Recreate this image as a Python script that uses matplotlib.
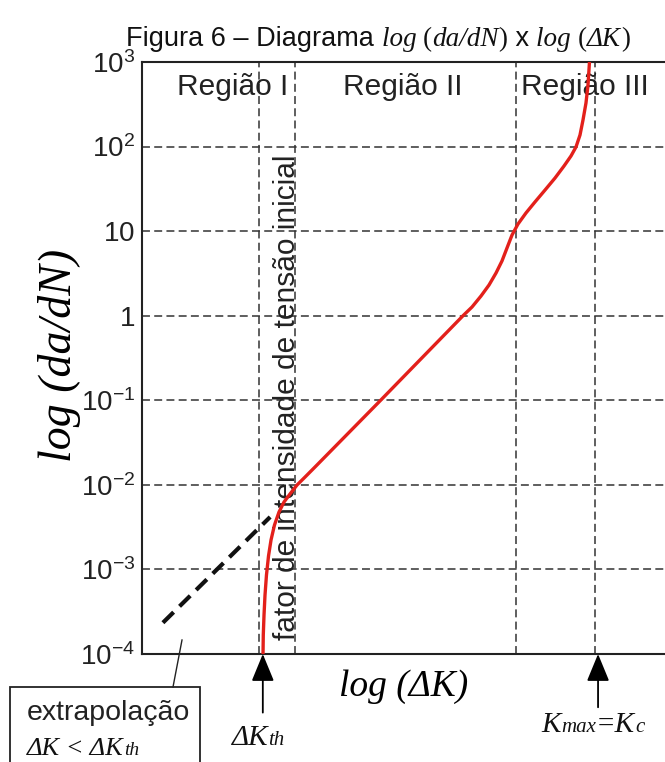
import numpy as np
import matplotlib
matplotlib.use("Agg")
import matplotlib.pyplot as plt
from matplotlib.patches import Rectangle

plt.rcParams['font.family'] = ['Liberation Sans', 'DejaVu Sans']
plt.rcParams['mathtext.fontset'] = 'custom'
plt.rcParams['mathtext.rm'] = 'Liberation Sans'
plt.rcParams['mathtext.it'] = 'Liberation Sans:italic'

# curva da/dN x dK (x = log dK em unidades arbitrarias, y = expoente de da/dN)
curve_x = [2.314, 2.319, 2.333, 2.352, 2.380, 2.419, 2.467, 2.533, 2.620,
           2.715, 2.830, 2.964, 3.117, 3.308, 4.512,
           6.138, 6.310, 6.482, 6.635, 6.769, 6.883, 6.979, 7.075, 7.189,
           7.342, 7.514, 7.706, 7.897, 8.069, 8.203, 8.298, 8.375, 8.432,
           8.489, 8.528, 8.556]
curve_logy = [-4.000, -3.775, -3.539, -3.303, -3.066, -2.841, -2.652, -2.475,
              -2.321, -2.203, -2.108, -2.002, -1.908, -1.789, -1.032,
              0.000, 0.103, 0.233, 0.363, 0.505, 0.647, 0.801, 0.954, 1.084,
              1.215, 1.345, 1.486, 1.628, 1.770, 1.889, 1.995, 2.137, 2.314,
              2.515, 2.728, 3.000]

# extrapolacao dK < dKth
extrap_x = [0.40, 2.45]
extrap_logy = [-3.63, -2.38]

# limites das regioes
region_lines = [2.24, 2.93, 7.15, 8.66]
region_names = ['Região I', 'Região II', 'Região III']
region_pos = [1.74, 4.99, 8.47]

ytick_vals = [1e-4, 1e-3, 1e-2, 1e-1, 1, 10, 1e2, 1e3]
ytick_labels = [r'$10^{-4}$', r'$10^{-3}$', r'$10^{-2}$', r'$10^{-1}$',
                r'$1$', r'$10$', r'$10^{2}$', r'$10^{3}$']

dk_th = 2.31
k_max = 8.72

serif_it = dict(family='Liberation Serif', style='italic')
serif_up = dict(family='Liberation Serif')
sans = dict(family='Liberation Sans')

fig = plt.figure(figsize=(6.65, 7.62), dpi=100)
ax = fig.add_axes([142 / 665, 108 / 762, 1 - 142 / 665, 592 / 762])

ax.set_yscale('log')
ax.set_xlim(0, 10)
ax.set_ylim(1e-4, 1e3)

# grade tracejada
grid_style = dict(color='#333333', lw=1.1, linestyle=(0, (5.2, 2.8)), zorder=1)
for v in ytick_vals[1:-1]:
    ax.axhline(v, **grid_style)
for v in region_lines:
    ax.axvline(v, **grid_style)

ax.plot(curve_x, 10 ** np.array(curve_logy), color='#e3201b', lw=2.4,
        solid_capstyle='butt', solid_joinstyle='round', zorder=3)
ax.plot(extrap_x, 10 ** np.array(extrap_logy), color='#111111', lw=3.0,
        linestyle=(0, (3.6, 2.0)), zorder=3)

for name, xp in zip(region_names, region_pos):
    ax.text(xp, 0.958, name, transform=ax.get_xaxis_transform(), ha='center',
            va='center', fontsize=21.5, color='#222222', zorder=2)

ax.text(2.78, 0.434, 'fator de intensidade de tensão inicial', rotation=90,
        transform=ax.get_xaxis_transform(), ha='center', va='center',
        fontsize=21.5, color='#222222', zorder=2)

ax.set_xticks([])
ax.set_yticks(ytick_vals)
ax.set_yticklabels(ytick_labels)
ax.yaxis.set_minor_locator(matplotlib.ticker.NullLocator())
ax.tick_params(axis='y', length=0, pad=5, labelsize=20, labelcolor='#222222')

for s in ['left', 'bottom', 'top']:
    ax.spines[s].set_linewidth(1.5)
    ax.spines[s].set_color('#222222')
ax.spines['right'].set_visible(False)

ax.set_ylabel('log (da/dN)', fontsize=33, **serif_it)
ax.yaxis.set_label_coords(-0.117, 0.505)

# eixo x
ax.text(0.5, -0.055, 'log (ΔK)', transform=ax.transAxes, ha='center',
        va='center', fontsize=27, **serif_it)

# setas dKth e Kmax
arrow = dict(arrowstyle='-|>,head_length=0.85,head_width=0.35', lw=1.3,
             color='black', shrinkA=0, shrinkB=0, mutation_scale=20)
ax.annotate('', xy=(dk_th, 0), xycoords=('data', 'axes fraction'),
            xytext=(dk_th, -0.099), textcoords=('data', 'axes fraction'),
            arrowprops=arrow)
ax.annotate('', xy=(k_max, 0), xycoords=('data', 'axes fraction'),
            xytext=(k_max, -0.09), textcoords=('data', 'axes fraction'),
            arrowprops=arrow)


def draw_chain(pieces, x0, y0, ha='left'):
    # escreve pedacos de texto em sequencia na mesma linha de base
    fig.canvas.draw()
    renderer = fig.canvas.get_renderer()
    texts = []
    for txt, size, style in pieces:
        t = fig.text(0, y0, txt, fontsize=size, va='baseline', ha='left',
                     color='#111111', **style)
        texts.append(t)
    widths = [t.get_window_extent(renderer).width for t in texts]
    total = sum(widths)
    fw = fig.bbox.width
    if ha == 'center':
        x = x0 * fw - total / 2
    else:
        x = x0 * fw
    for t, w in zip(texts, widths):
        t.set_x(x / fw)
        x += w


draw_chain([('Figura 6 – Diagrama ', 19.5, sans), ('log ', 19.5, serif_it),
            ('(', 19.5, serif_up), ('da/dN', 19.5, serif_it),
            (')', 19.5, serif_up), (' x ', 19.5, sans), ('log ', 19.5, serif_it),
            ('(', 19.5, serif_up), ('ΔK', 19.5, serif_it), (')', 19.5, serif_up)],
           378 / 665, 1 - 46 / 762, ha='center')

draw_chain([('ΔK', 21, serif_it), ('th', 15, serif_it)],
           258 / 665, 1 - 745 / 762, ha='center')
draw_chain([('K', 21, serif_it), ('max', 15, serif_it), ('=K', 21, serif_it),
            ('c', 15, serif_it)],
           593 / 665, 1 - 732 / 762, ha='center')

# caixa da extrapolacao
fig.add_artist(Rectangle((10 / 665, -0.05), 190 / 665, 0.05 + 75 / 762,
                         transform=fig.transFigure, fill=False, lw=1.3,
                         edgecolor='#222222'))
fig.add_artist(plt.Line2D([173 / 665, 182 / 665], [1 - 687 / 762, 1 - 640 / 762],
                          transform=fig.transFigure, color='#222222', lw=1.0))
fig.text(27 / 665, 1 - 713 / 762, 'extrapolação', fontsize=20.5, va='center',
         ha='left', color='#222222', family='Liberation Sans')
draw_chain([('ΔK < ΔK', 19, serif_it), ('th', 14, serif_it)],
           27 / 665, 1 - 755 / 762)

fig.savefig('out.png', dpi=100)
